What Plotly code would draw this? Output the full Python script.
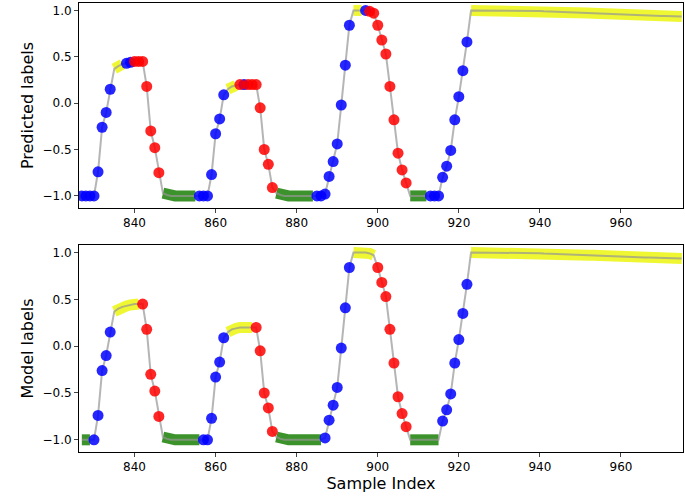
import plotly.graph_objects as go
from plotly.subplots import make_subplots

x = list(range(827, 976))
head = [-1, -1, -1, -1, -0.74, -0.26, -0.10, 0.15, 0.37, 0.40, 0.42, 0.43, 0.44, 0.45, 0.45, 0.45,
        0.18, -0.30, -0.48, -0.75,
        -0.97, -0.99, -1, -1, -1, -1, -1, -1, -1,
        -1, -1, -1, -0.77, -0.33, -0.17, 0.09, 0.15, 0.18, 0.19, 0.20, 0.20, 0.20, 0.20, 0.20,
        -0.05, -0.50, -0.66, -0.91,
        -0.97, -0.99, -1, -1, -1, -1, -1, -1, -1, -1,
        -1, -1, -0.98, -0.79, -0.63, -0.44, -0.02, 0.41, 0.84, 1.0, 1.0, 1.0, 1.0, 0.99, 0.97,
        0.84, 0.68, 0.53, 0.18, -0.18, -0.54, -0.72, -0.86,
        -1, -1, -1, -1, -1, -1, -1, -1,
        -0.80, -0.68, -0.51, -0.18, 0.07, 0.35, 0.66]
tail = [1.0, 1.0, 1.0, 1.0, 1.0, 1.0, 1.0, 1.0, 1.0, 1.0, 1.0, 1.0, 1.0, 0.998, 0.997, 0.996, 0.995,
        0.993, 0.99, 0.988, 0.986, 0.985, 0.982, 0.98, 0.978, 0.976, 0.975, 0.974, 0.972, 0.971,
        0.97, 0.968, 0.965, 0.963, 0.962, 0.96, 0.958, 0.957, 0.956, 0.955, 0.953, 0.951, 0.949,
        0.947, 0.946, 0.945, 0.943, 0.941, 0.94, 0.939, 0.938, 0.937, 0.935]
y = head + tail

# (first sample index, class) -- class holds until the next start
pred_starts = [(827, "b"), (835, "y"), (838, "b"), (840, "r"), (847, "g"), (856, "b"), (863, "y"),
               (866, "r"), (867, "b"), (868, "r"), (875, "g"), (885, "b"), (894, "y"), (897, "b"),
               (898, "r"), (908, "g"), (913, "b"), (923, "y")]
model_starts = [(827, "g"), (830, "b"), (835, "y"), (842, "r"), (847, "g"), (857, "b"), (863, "y"),
                (870, "r"), (875, "g"), (887, "b"), (894, "y"), (900, "r"), (908, "g"), (916, "b"),
                (923, "y")]

def expand(starts):
    out = []
    for xi in x:
        c = starts[0][1]
        for s, k in starts:
            if xi >= s:
                c = k
        out.append(c)
    return out

pred = expand(pred_starts)
model = expand(model_starts)
n = len(x)

fig = make_subplots(rows=2, cols=1)

def add(labels, row):
    for c, col in (("y", "rgba(235,245,0,0.8)"), ("g", "rgba(40,135,20,0.9)")):
        sx, sy = [], []
        for i in range(n):
            if labels[i] == c:
                sx.append(x[i]); sy.append(y[i])
            elif sx and sx[-1] is not None:
                sx.append(None); sy.append(None)
        fig.add_trace(go.Scatter(x=sx, y=sy, mode="lines", line=dict(color=col, width=11),
                                 showlegend=False, hoverinfo="skip"), row=row, col=1)
    fig.add_trace(go.Scatter(x=x, y=y, mode="lines", line=dict(color="rgba(150,150,150,0.7)", width=2),
                             showlegend=False), row=row, col=1)
    for c, col in (("b", "rgba(0,0,255,0.85)"), ("r", "rgba(255,0,0,0.85)")):
        px = [x[i] for i in range(n) if labels[i] == c]
        py = [y[i] for i in range(n) if labels[i] == c]
        fig.add_trace(go.Scatter(x=px, y=py, mode="markers", marker=dict(color=col, size=11, line=dict(width=0)),
                                 showlegend=False), row=row, col=1)

add(pred, 1)
add(model, 2)

ax = dict(showline=True, mirror=True, linecolor="black", linewidth=1, ticks="outside", ticklen=4,
          showgrid=False, zeroline=False, automargin=False, tickfont=dict(size=12, color="black"))
for r in (1, 2):
    fig.update_xaxes(range=[826.3, 975.3], dtick=20, tick0=840, **ax, row=r, col=1)
    fig.update_yaxes(range=[-1.13, 1.08], tickvals=[-1, -0.5, 0, 0.5, 1], tickformat=".1f", **ax, row=r, col=1)
fig.update_yaxes(domain=[0.543, 0.9934], title_text="Predicted labels", title_standoff=4, row=1, col=1)
fig.update_yaxes(domain=[0.0066, 0.4615], title_text="Model labels", title_standoff=4, row=2, col=1)
fig.update_xaxes(title_text="Sample Index", title_standoff=2, row=2, col=1)

fig.update_layout(width=685, height=503, margin=dict(l=79, r=2, t=0, b=48),
                  plot_bgcolor="white", paper_bgcolor="white",
                  font=dict(family="DejaVu Sans", size=13, color="black"))
fig.write_html("out.html", config={"displayModeBar": False},
               post_script="document.body.style.margin='0';")
